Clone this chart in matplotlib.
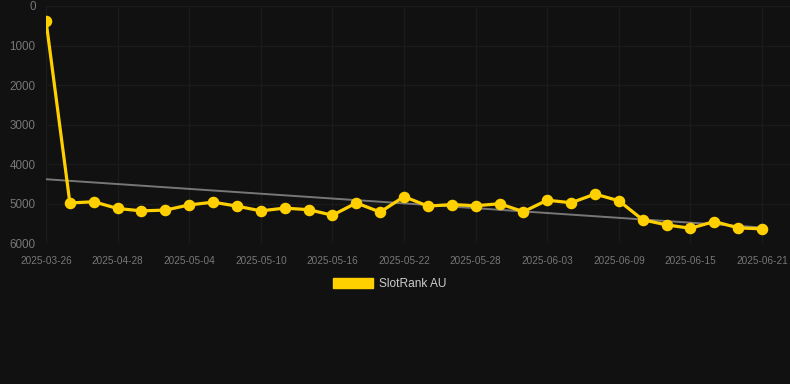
import numpy as np
import matplotlib.pyplot as plt
from matplotlib.patches import Patch

# Datos (rango diario SlotRank AU)
fechas = ["2025-03-26", "2025-04-24", "2025-04-26", "2025-04-28", "2025-04-30",
          "2025-05-02", "2025-05-04", "2025-05-06", "2025-05-08", "2025-05-10",
          "2025-05-12", "2025-05-14", "2025-05-16", "2025-05-18", "2025-05-20",
          "2025-05-22", "2025-05-24", "2025-05-26", "2025-05-28", "2025-05-30",
          "2025-06-01", "2025-06-03", "2025-06-05", "2025-06-07", "2025-06-09",
          "2025-06-11", "2025-06-13", "2025-06-15", "2025-06-17", "2025-06-19",
          "2025-06-21"]
rango = [370, 4980, 4950, 5120, 5180, 5160, 5030, 4960, 5060, 5180,
         5110, 5150, 5290, 4980, 5210, 4820, 5060, 5020, 5050, 5000,
         5200, 4910, 4975, 4755, 4925, 5405, 5535, 5620, 5450, 5610,
         5635]
yticks = [0, 1000, 2000, 3000, 4000, 5000, 6000]
nombre_serie = "SlotRank AU"

fondo = "#111111"
amarillo = "#FFD000"
plt.rcParams['font.family'] = ['Liberation Sans', 'DejaVu Sans']

fig = plt.figure(figsize=(7.9, 3.84), dpi=100, facecolor=fondo)
ax = fig.add_axes([46/790, 1 - 243.3/384, 1 - 46/790, (243.3 - 6)/384])
ax.set_facecolor(fondo)

x = np.arange(len(rango))
# linea de tendencia (ajuste lineal)
a, b = np.polyfit(x, rango, 1)
ax.plot(x, a*x + b, color="#777777", lw=1.4, zorder=2)
ax.plot(x, rango, color=amarillo, lw=2.3, marker='o', markersize=7.3, zorder=3)

ax.set_xlim(0, (790 - 46)/23.87)
ax.set_ylim(6000, 0)
ax.set_yticks(yticks)
ax.set_yticklabels([str(v) for v in yticks])
ax.set_xticks(x[::3])
ax.set_xticklabels(fechas[::3])
ax.grid(True, color="#1b1b1b", lw=1)
ax.set_axisbelow(True)
for s in ax.spines.values():
    s.set_visible(False)
ax.tick_params(axis='y', length=0, pad=7.5, labelsize=8.4, labelcolor="#777777")
ax.tick_params(axis='x', length=0, pad=9, labelsize=7.2, labelcolor="#777777")

fig.legend(handles=[Patch(facecolor=amarillo, edgecolor=amarillo, label=nombre_serie)],
           loc='center', bbox_to_anchor=(389.5/790, 1 - 284/384), frameon=False,
           fontsize=8.6, labelcolor="#cccccc", handlelength=3.33, handleheight=1.0,
           handletextpad=0.5, borderpad=0, borderaxespad=0)

fig.savefig("out.png", dpi=100, facecolor=fondo)
